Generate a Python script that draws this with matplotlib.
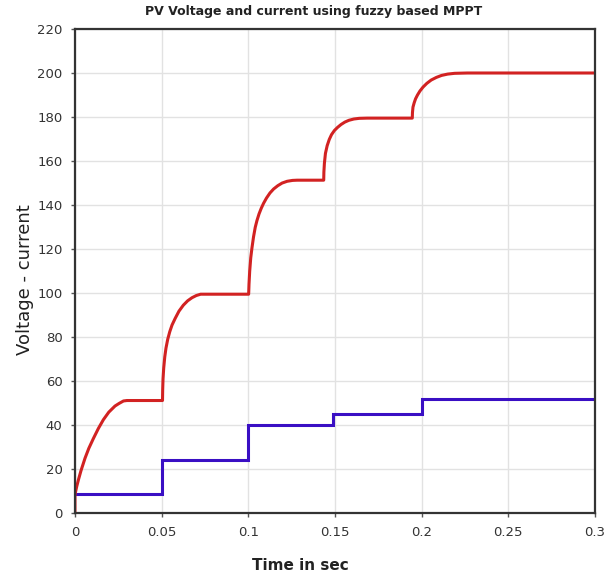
import numpy as np
import matplotlib
matplotlib.use("Agg")
import matplotlib.pyplot as plt

# PV voltage (red)
volt_t = [0, 0, 0.001, 0.002, 0.0035, 0.0058, 0.008, 0.0106, 0.0135, 0.0164, 0.0195, 0.0231, 0.0255,
          0.028, 0.030, 0.0505,
          0.0506, 0.0508, 0.0512, 0.0518, 0.0525, 0.0535, 0.0547, 0.056, 0.0578, 0.06, 0.0625, 0.065,
          0.0675, 0.07, 0.0725, 0.1002,
          0.1004, 0.1008, 0.1014, 0.1021, 0.103, 0.104, 0.105, 0.1062, 0.1075, 0.1088, 0.1105, 0.1125,
          0.1146, 0.117, 0.1195, 0.1224, 0.1255, 0.1282, 0.1435,
          0.1436, 0.1439, 0.1445, 0.1455, 0.1467, 0.148, 0.1497, 0.1515, 0.1535, 0.1557, 0.158, 0.1609,
          0.164, 0.1686, 0.1946,
          0.1947, 0.195, 0.1957, 0.1965, 0.1976, 0.199, 0.2008, 0.203, 0.2055, 0.2085, 0.2115, 0.215,
          0.219, 0.2264, 0.3]
volt_v = [0, 8.5, 12.1, 15.2, 19.4, 25.0, 29.5, 33.9, 38.5, 42.5, 45.9, 48.7, 49.9,
          51.0, 51.2, 51.2,
          56, 61, 66, 71, 75, 79, 82.5, 85.5, 88.5, 91.8, 94.5, 96.5,
          97.9, 98.9, 99.5, 99.5,
          104, 110, 116, 120.5, 125.5, 129.9, 133, 136, 138.6, 140.8, 143.2, 145.5,
          147.3, 148.8, 150, 150.8, 151.2, 151.3, 151.3,
          155, 159, 163.5, 167, 169.8, 172, 173.9, 175.3, 176.6, 177.7, 178.5, 179.1,
          179.4, 179.5, 179.5,
          182, 184.5, 186.5, 188.3, 190, 191.8, 193.6, 195.3, 196.8, 198, 198.9, 199.5,
          199.85, 200, 200]

# PV current (blue), step levels
curr_edges = [0, 0.05, 0.1, 0.149, 0.2, 0.3]
curr_levels = [8.6, 24.4, 40, 45.2, 52]

xticks = [0, 0.05, 0.1, 0.15, 0.2, 0.25, 0.3]
xtick_labels = ["0", "0.05", "0.1", "0.15", "0.2", "0.25", "0.3"]
yticks = list(range(0, 221, 20))

fig = plt.figure(figsize=(6.11, 5.76), dpi=100)
ax = fig.add_axes([0.1227, 0.109, 0.8511, 0.8407])

ax.plot(volt_t, volt_v, color="#d22222", lw=2.2, solid_joinstyle="round")
ax.stairs(curr_levels, curr_edges, color="#3a0fc4", lw=2.2, baseline=None)

ax.set_xlim(0, 0.3)
ax.set_ylim(0, 220)
ax.set_xticks(xticks)
ax.set_xticklabels(xtick_labels)
ax.set_yticks(yticks)
ax.grid(True, color="#e2e2e2", lw=1)
ax.set_axisbelow(True)
ax.tick_params(length=3, width=1, color="#555555", labelsize=9.5, labelcolor="#333333", pad=6)
for s in ax.spines.values():
    s.set_color("#333333")
    s.set_linewidth(1.6)

fig.text(314 / 611, 1 - 12 / 576, "PV Voltage and current using fuzzy based MPPT",
         ha="center", va="center", fontsize=9, fontweight="bold", color="#222222")
fig.text(300 / 611, 1 - 566 / 576, "Time in sec", ha="center", va="center",
         fontsize=11, fontweight="bold", color="#222222")
fig.text(25 / 611, 1 - 280 / 576, "Voltage - current", ha="center", va="center",
         rotation=90, fontsize=13, color="#222222")

fig.savefig("out.png", dpi=100)
